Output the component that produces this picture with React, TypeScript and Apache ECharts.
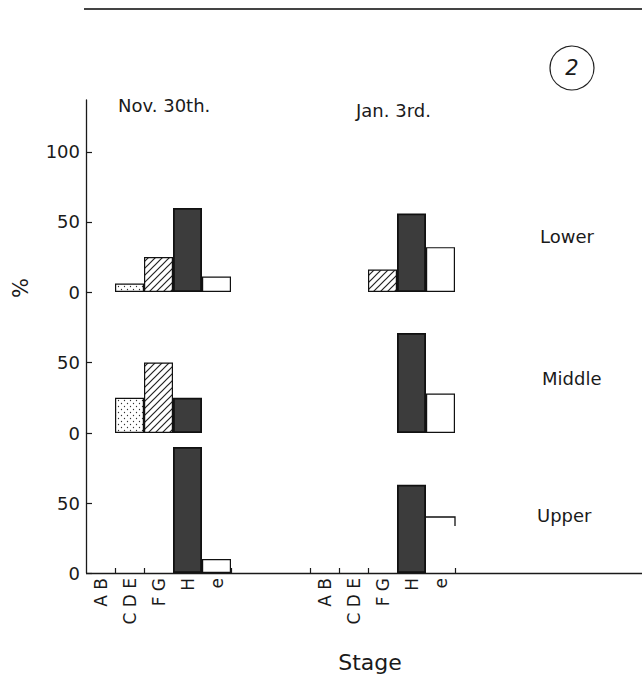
import React, { useEffect, useRef } from "react";
import * as echarts from "echarts";

// ---- data ----
const categories = ["AB", "CDE", "FG", "H", "e"];
const yTicksLower = [0, 50, 100];
const yTicksOther = [0, 50];
const novLower = [null, 6, 25, 60, 11];
const novMiddle = [null, 25, 50, 25, null];
const novUpper = [null, null, null, 90, 10];
const janLower = [null, null, 16, 56, 32];
const janMiddle = [null, null, null, 71, 28];
const janUpper = [null, null, null, 63, 40];
const dateLabels = ["Nov. 30th.", "Jan. 3rd."];
const rowLabels = ["Lower", "Middle", "Upper"];

const FONT = "DejaVu Sans";
const INK = "#1a1a1a";

function svgUrl(svg: string) {
  return "data:image/svg+xml;charset=utf-8," + encodeURIComponent(svg);
}
const stipple = {
  image: svgUrl(
    "<svg xmlns='http://www.w3.org/2000/svg' width='6' height='6'><rect width='6' height='6' fill='white'/><circle cx='1.5' cy='1.5' r='0.65' fill='#333'/><circle cx='4.5' cy='4.5' r='0.65' fill='#333'/></svg>"
  ),
  repeat: "repeat",
  imageWidth: 6,
  imageHeight: 6,
};
const hatch = {
  image: svgUrl(
    "<svg xmlns='http://www.w3.org/2000/svg' width='7' height='7'><rect width='7' height='7' fill='white'/><path d='M-1,1 L1,-1 M0,7 L7,0 M6,8 L8,6' stroke='#222' stroke-width='1.2'/></svg>"
  ),
  repeat: "repeat",
  imageWidth: 7,
  imageHeight: 7,
};
const fills: any[] = ["#ffffff", stipple, hatch, "#3c3c3c", "#ffffff"];

export default function App() {
  const ref = useRef<HTMLDivElement>(null);
  useEffect(() => {
    if (!ref.current) return;
    const chart = echarts.init(ref.current, null, { renderer: "svg" });

    const rows = [
      { top: 100, height: 192, max: 137, ticks: yTicksLower },
      { top: 292, height: 141, max: 100, ticks: yTicksOther },
      { top: 433, height: 140, max: 100, ticks: yTicksOther },
    ];
    const cols = [
      { left: 86, data: [novLower, novMiddle, novUpper], axis: true, tickIdx: [1, 2] },
      { left: 310, data: [janLower, janMiddle, janUpper], axis: false, tickIdx: [0, 1, 2] },
    ];

    const grid: any[] = [];
    const xAxis: any[] = [];
    const yAxis: any[] = [];
    const series: any[] = [];
    let gi = 0;
    cols.forEach((c, ci) => {
      rows.forEach((r, ri) => {
        grid.push({ left: c.left, width: 145, top: r.top, height: r.height });
        const bottom = ri === 2;
        xAxis.push({
          type: "category",
          gridIndex: gi,
          data: categories,
          boundaryGap: true,
          show: bottom,
          axisLine: { show: false },
          axisTick: {
            show: bottom,
            inside: true,
            length: 5,
            interval: (idx: number) => c.tickIdx.indexOf(idx) >= 0,
            lineStyle: { color: INK, width: 1.2 },
          },
          axisLabel: {
            show: bottom,
            rotate: 90,
            margin: 5,
            interval: 0,
            fontFamily: FONT,
            fontSize: 17,
            color: INK,
            formatter: (v: string) => v.split("").join(" "),
          },
          splitLine: { show: false },
        });
        yAxis.push({
          type: "value",
          gridIndex: gi,
          min: 0,
          max: r.max,
          show: c.axis,
          axisLine: { show: true, lineStyle: { color: INK, width: 1.3 } },
          axisTick: {
            show: true,
            inside: true,
            length: 6,
            customValues: r.ticks,
            lineStyle: { color: INK, width: 1.2 },
          },
          axisLabel: {
            show: true,
            customValues: r.ticks,
            margin: 6,
            fontFamily: FONT,
            fontSize: 18,
            color: INK,
          },
          splitLine: { show: false },
        });
        const vals = c.data[ri];
        const isJanUpper = ci === 1 && ri === 2;
        series.push({
          type: "bar",
          xAxisIndex: gi,
          yAxisIndex: gi,
          barWidth: "100%",
          barCategoryGap: "0%",
          data: vals.map((v, k) =>
            v == null || (isJanUpper && k === 4)
              ? null
              : {
                  value: v,
                  itemStyle: {
                    color: fills[k],
                    borderColor: "#111",
                    borderWidth: k === 3 ? 1.8 : 1.2,
                  },
                }
          ),
        });
        if (isJanUpper) {
          series.push({
            type: "custom",
            xAxisIndex: gi,
            yAxisIndex: gi,
            encode: { x: 0, y: 1 },
            data: [[4, vals[4]]],
            renderItem: (params: any, api: any) => {
              const p = api.coord([api.value(0), api.value(1)]);
              const w = api.size([1, 0])[0];
              return {
                type: "polyline",
                shape: {
                  points: [
                    [p[0] - w / 2, p[1]],
                    [p[0] + w / 2, p[1]],
                    [p[0] + w / 2, p[1] + 9],
                  ],
                },
                style: { stroke: "#111", lineWidth: 1.3, fill: null },
              };
            },
          });
        }
        gi++;
      });
    });

    const textStyle = (extra: any) => ({ fill: INK, fontFamily: FONT, ...extra });
    const graphic: any[] = [
      { type: "line", shape: { x1: 84, y1: 9, x2: 642, y2: 9 }, style: { stroke: "#444", lineWidth: 2 } },
      { type: "line", z: 10, shape: { x1: 86, y1: 573.5, x2: 642, y2: 573.5 }, style: { stroke: INK, lineWidth: 1.3 } },
      { type: "circle", shape: { cx: 572, cy: 68, r: 22 }, style: { fill: "none", stroke: "#222", lineWidth: 1.2 } },
      { type: "text", x: 572, y: 68, style: textStyle({ text: "2", fontSize: 21, fontStyle: "italic", align: "center", verticalAlign: "middle" }) },
      { type: "text", x: 118, y: 105, style: textStyle({ text: dateLabels[0], fontSize: 18, align: "left", verticalAlign: "middle" }) },
      { type: "text", x: 356, y: 110, style: textStyle({ text: dateLabels[1], fontSize: 18, align: "left", verticalAlign: "middle" }) },
      { type: "text", x: 540, y: 236, style: textStyle({ text: rowLabels[0], fontSize: 18, align: "left", verticalAlign: "middle" }) },
      { type: "text", x: 542, y: 378, style: textStyle({ text: rowLabels[1], fontSize: 18, align: "left", verticalAlign: "middle" }) },
      { type: "text", x: 537, y: 515, style: textStyle({ text: rowLabels[2], fontSize: 18, align: "left", verticalAlign: "middle" }) },
      { type: "text", x: 370, y: 662, style: textStyle({ text: "Stage", fontSize: 22, align: "center", verticalAlign: "middle" }) },
      { type: "text", x: 21, y: 288, rotation: Math.PI / 2, style: textStyle({ text: "%", fontSize: 21, align: "center", verticalAlign: "middle" }) },
    ];

    chart.setOption({
      animation: false,
      backgroundColor: "#ffffff",
      grid,
      xAxis,
      yAxis,
      series,
      graphic,
    });
    return () => chart.dispose();
  }, []);
  return (
    <div
      ref={ref}
      style={{ position: "fixed", left: 0, top: 0, width: 642, height: 682, background: "#fff" }}
    />
  );
}
